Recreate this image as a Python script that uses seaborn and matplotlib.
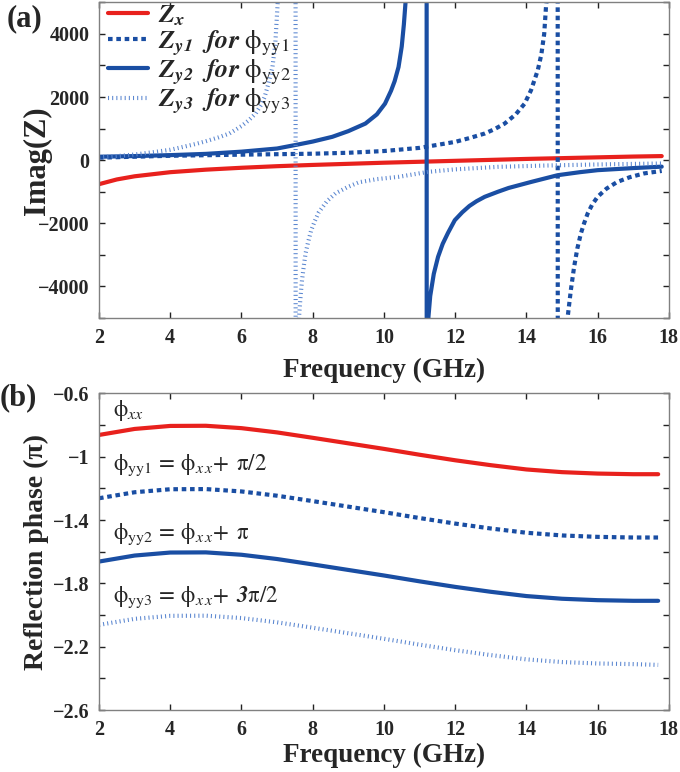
import matplotlib
matplotlib.use("Agg")
import matplotlib.pyplot as plt
import seaborn as sns
from matplotlib.ticker import MultipleLocator, FuncFormatter

# ---- panel (a): imaginary part of impedance ----
freq_zx = [2, 2.5, 3, 4, 5, 6, 7, 8, 9, 10, 11, 12, 13, 14, 15, 16, 17, 17.8]
imag_zx = [-760, -610, -510, -380, -300, -240, -190, -150, -115, -80, -50, -20, 10, 40, 65, 90, 115, 130]

freq_zy1 = [2, 4, 6, 8, 9, 10, 11, 12, 12.4, 12.83, 13.1, 13.39, 13.7, 13.95, 14.13, 14.32, 14.42,
            14.5, 14.55, 14.62, 14.75, 14.87,
            14.89, 15.05, 15.1, 15.16, 15.25, 15.34, 15.43, 15.53, 15.62, 15.72, 15.85, 16.0,
            16.25, 16.55, 16.9, 17.3, 17.8]
imag_zy1 = [80, 140, 175, 205, 235, 290, 390, 580, 700, 844, 980, 1160, 1450, 1790, 2215, 2850, 3350,
            4000, 4850, 5600, 9000, 60000,
            -60000, -9000, -6500, -4960, -4100, -3380, -2800, -2320, -2000, -1690, -1400, -1160,
            -900, -690, -540, -420, -340]

freq_zy2 = [2, 3, 4, 5, 6, 7, 7.6, 8.0, 8.55, 9.0, 9.48, 9.8, 10.03, 10.2, 10.3, 10.41, 10.5, 10.56,
            10.62, 10.75, 10.9, 11.19,
            11.21, 11.23, 11.25, 11.3, 11.4, 11.52, 11.65, 11.8, 11.99, 12.2, 12.4, 12.6, 12.83,
            13.2, 13.5, 14.13, 14.88, 15.5, 16.0, 17.0, 17.8]
imag_zy2 = [110, 130, 160, 200, 270, 370, 500, 590, 740, 920, 1160, 1450, 1790, 2200, 2500, 2950, 3600, 4300,
            5200, 7500, 15000, 60000,
            -60000, -8000, -4960, -4300, -3600, -3060, -2650, -2300, -1900, -1650, -1450, -1300, -1160,
            -1000, -880, -690, -475, -380, -316, -250, -205]

freq_zy3 = [2, 2.5, 3, 3.5, 4.0, 4.36, 4.7, 5.0, 5.35, 5.66, 6.0, 6.2, 6.4, 6.55, 6.65, 6.75, 6.87,
            6.95, 7.01, 7.1, 7.25, 7.51,
            7.53, 7.57, 7.61, 7.66, 7.7, 7.75, 7.8, 7.87, 7.95, 8.05, 8.17, 8.4, 8.64, 9.0, 9.3,
            9.8, 10.41, 11.25, 12.0, 13.2, 14.5, 16.0, 17.8]
imag_zy3 = [90, 130, 180, 250, 330, 420, 510, 600, 720, 844, 1080, 1260, 1480, 1750, 2000, 2400, 2950,
            3700, 4850, 6500, 12000, 60000,
            -60000, -9000, -5060, -4300, -3800, -3350, -2950, -2600, -2250, -1950, -1650, -1300, -1050,
            -840, -700, -600, -527, -369, -290, -211, -170, -135, -105]

# ---- panel (b): reflection phase (units of pi) ----
freq_phase = [2, 3, 4, 5, 6, 7, 8, 9, 10, 11, 12, 13, 14, 15, 16, 17, 17.7]
phi_xx = [-0.862, -0.824, -0.805, -0.804, -0.819, -0.846, -0.880, -0.915, -0.950, -0.987,
          -1.022, -1.053, -1.080, -1.097, -1.106, -1.110, -1.110]
phi_yy1 = [-1.262, -1.224, -1.205, -1.204, -1.219, -1.246, -1.280, -1.315, -1.350, -1.387,
           -1.422, -1.453, -1.480, -1.497, -1.506, -1.510, -1.510]
phi_yy2 = [-1.662, -1.624, -1.605, -1.604, -1.619, -1.646, -1.680, -1.715, -1.750, -1.787,
           -1.822, -1.853, -1.880, -1.897, -1.906, -1.910, -1.910]
phi_yy3 = [-2.062, -2.024, -2.005, -2.004, -2.019, -2.046, -2.080, -2.115, -2.150, -2.187,
           -2.222, -2.253, -2.280, -2.297, -2.306, -2.310, -2.315]

RED = "#e8211d"
BLUE = "#1a4ea3"
LIGHT = "#5a86d0"
DASH = (0, (1.1, 0.9))
DOT = (0, (0.25, 0.75))

sns.set_theme(style="ticks")
plt.rcParams["font.family"] = ["Liberation Serif", "DejaVu Serif"]
plt.rcParams["mathtext.fontset"] = "stix"
plt.rcParams["axes.unicode_minus"] = True

fig = plt.figure(figsize=(6.8, 7.72), dpi=100)
ax1 = fig.add_axes([0.1456, 0.588, 0.838, 0.409])
ax2 = fig.add_axes([0.1456, 0.0803, 0.838, 0.410])

lw = 3.0
sns.lineplot(x=freq_zx, y=imag_zx, ax=ax1, color=RED, lw=lw, label=r"$\mathbfit{Z}_{\mathbfit{x}}$")
sns.lineplot(x=freq_zy1, y=imag_zy1, ax=ax1, color=BLUE, lw=lw, linestyle=DASH,
             label=r"$\mathbfit{Z}_{\mathbfit{y1}}\ \ \mathbfit{for}\ \mathrm{\phi}_{\mathrm{yy1}}$")
sns.lineplot(x=freq_zy2, y=imag_zy2, ax=ax1, color=BLUE, lw=lw,
             label=r"$\mathbfit{Z}_{\mathbfit{y2}}\ \ \mathbfit{for}\ \mathrm{\phi}_{\mathrm{yy2}}$")
sns.lineplot(x=freq_zy3, y=imag_zy3, ax=ax1, color=LIGHT, lw=lw, linestyle=DOT,
             label=r"$\mathbfit{Z}_{\mathbfit{y3}}\ \ \mathbfit{for}\ \mathrm{\phi}_{\mathrm{yy3}}$")

sns.lineplot(x=freq_phase, y=phi_xx, ax=ax2, color=RED, lw=lw)
sns.lineplot(x=freq_phase, y=phi_yy1, ax=ax2, color=BLUE, lw=lw, linestyle=DASH)
sns.lineplot(x=freq_phase, y=phi_yy2, ax=ax2, color=BLUE, lw=lw)
sns.lineplot(x=freq_phase, y=phi_yy3, ax=ax2, color=LIGHT, lw=lw, linestyle=DOT)

fmt = FuncFormatter(lambda v, p: ("%g" % round(v, 3)).replace("-", "\u2212"))

ax1.set_ylim(-5000, 5000)
ax1.set_yticks([-4000, -2000, 0, 2000, 4000])
ax1.yaxis.set_minor_locator(MultipleLocator(1000))
ax1.set_ylabel("Imag(Z)", family="Liberation Serif", weight="bold", size=22)
ax1.yaxis.set_label_coords(-0.083, 0.5)

ax2.set_ylim(-2.6, -0.6)
ax2.set_yticks([-2.6, -2.2, -1.8, -1.4, -1.0, -0.6])
ax2.yaxis.set_minor_locator(MultipleLocator(0.2))
ax2.set_ylabel("Reflection phase (\u03c0)", family="Liberation Serif", weight="bold", size=20)
ax2.yaxis.set_label_coords(-0.088, 0.5)

for ax, lp in ((ax1, 7), (ax2, 2)):
    ax.set_xlim(2, 18)
    ax.xaxis.set_major_locator(MultipleLocator(2))
    ax.xaxis.set_major_formatter(fmt)
    ax.yaxis.set_major_formatter(fmt)
    ax.tick_params(which="both", direction="in", length=4, width=1, color="#222222",
                   top=True, right=True, pad=7)
    for s in ax.spines.values():
        s.set_color("#808080")
        s.set_linewidth(1.0)
    for t in ax.get_xticklabels() + ax.get_yticklabels():
        t.set_fontfamily("Liberation Serif")
        t.set_fontweight("bold")
        t.set_fontsize(14.5)
    ax.set_xlabel("Frequency (GHz)", family="Liberation Serif", weight="bold", size=19.5, labelpad=lp)

ax1.legend(loc="upper left", bbox_to_anchor=(0.0, 1.025), frameon=False, fontsize=19,
           handlelength=1.52, handletextpad=0.38, labelspacing=0.0, borderaxespad=0.0, borderpad=0.35)

ann = 16.5
ax2.text(0.025, 0.945, r"$\mathrm{\phi}_{xx}$", transform=ax2.transAxes, fontsize=ann, va="center")
ax2.text(0.025, 0.772, r"$\mathrm{\phi}_{\mathrm{yy1}}\,=\,\mathrm{\phi}_{x\,x}\!+\;\mathrm{\pi}/2$",
         transform=ax2.transAxes, fontsize=ann, va="center")
ax2.text(0.025, 0.555, r"$\mathrm{\phi}_{\mathrm{yy2}}\,=\,\mathrm{\phi}_{x\,x}\!+\;\mathrm{\pi}$",
         transform=ax2.transAxes, fontsize=ann, va="center")
ax2.text(0.025, 0.355, r"$\mathrm{\phi}_{\mathrm{yy3}}\,=\,\mathrm{\phi}_{x\,x}\!+\;\mathbfit{3}\mathrm{\pi}/2$",
         transform=ax2.transAxes, fontsize=ann, va="center")

fig.text(0.01, 0.995, "(a)", fontsize=22, fontweight="bold", family="Liberation Serif", va="top")
fig.text(0.0, 0.503, "(b)", fontsize=22, fontweight="bold", family="Liberation Serif", va="top")

fig.savefig("out.png", dpi=100)
